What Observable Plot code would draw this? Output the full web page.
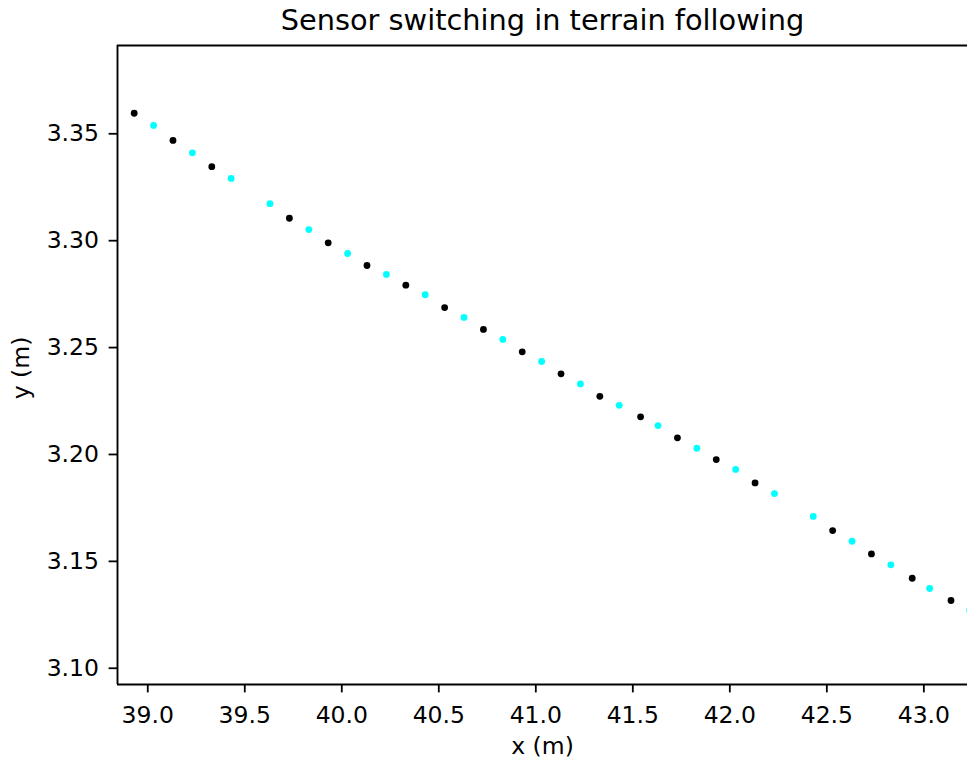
<!DOCTYPE html>
<html>
<head>
<meta charset="utf-8">
<script src="https://cdn.jsdelivr.net/npm/d3@7"></script>
<script src="https://cdn.jsdelivr.net/npm/@observablehq/plot@0.6"></script>
<style>
  html, body { margin: 0; padding: 0; background: #fff; }
  svg { font-family: "DejaVu Sans", sans-serif; }
</style>
</head>
<body>
<div id="chart"></div>
<script>
// Points from sensor A (black)
const blackX = [38.93, 39.13, 39.33, 39.73, 39.93, 40.13, 40.33, 40.53, 40.73, 40.93, 41.13, 41.33, 41.54, 41.73, 41.93, 42.13, 42.53, 42.73, 42.94, 43.14];
const blackY = [3.3596, 3.3469, 3.3346, 3.3105, 3.2990, 3.2884, 3.2792, 3.2687, 3.2585, 3.2480, 3.2377, 3.2272, 3.2176, 3.2078, 3.1976, 3.1867, 3.1644, 3.1535, 3.1421, 3.1317];
// Points from sensor B (cyan)
const cyanX = [39.03, 39.23, 39.43, 39.63, 39.83, 40.03, 40.23, 40.43, 40.63, 40.83, 41.03, 41.23, 41.43, 41.63, 41.83, 42.03, 42.23, 42.43, 42.63, 42.83, 43.03, 43.236];
const cyanY = [3.3539, 3.3411, 3.3291, 3.3173, 3.3052, 3.2940, 3.2842, 3.2747, 3.2641, 3.2538, 3.2435, 3.2330, 3.2230, 3.2135, 3.2029, 3.1930, 3.1817, 3.1710, 3.1594, 3.1484, 3.1373, 3.1270];

const xTicks = [39.0, 39.5, 40.0, 40.5, 41.0, 41.5, 42.0, 42.5, 43.0];
const yTicks = [3.10, 3.15, 3.20, 3.25, 3.30, 3.35];
const xDomain = [38.844, 43.225];
const yDomain = [3.0924, 3.3913];

const titleText = "Sensor switching in terrain following";
const xLabel = "x (m)";
const yLabel = "y (m)";

const black = blackX.map((x, i) => ({x, y: blackY[i]}));
const cyan = cyanX.map((x, i) => ({x, y: cyanY[i]}));

const FS = 23.5;

const chart = Plot.plot({
  width: 967,
  height: 763,
  marginTop: 45,
  marginBottom: 79,
  marginLeft: 117,
  marginRight: 0,
  style: {fontFamily: "DejaVu Sans, sans-serif", background: "#fff", color: "#000", overflow: "visible"},
  x: {domain: xDomain},
  y: {domain: yDomain},
  marks: [
    // tick lines only
    Plot.axisX({ticks: xTicks, tickSize: 8.4, tickFormat: () => "", label: null, stroke: "#000", strokeWidth: 1.8}),
    Plot.axisY({ticks: yTicks, tickSize: 8.4, tickFormat: () => "", label: null, stroke: "#000", strokeWidth: 1.8}),
    // tick labels
    Plot.text(xTicks, {x: d => d, frameAnchor: "bottom", lineAnchor: "top", textAnchor: "middle", dy: 21.5,
      text: d => d.toFixed(1), fontSize: FS, fill: "#000"}),
    Plot.text(yTicks, {y: d => d, frameAnchor: "left", lineAnchor: "middle", textAnchor: "end", dx: -18.5,
      text: d => d.toFixed(2), fontSize: FS, fill: "#000"}),
    // axis labels and title
    Plot.text([xLabel], {frameAnchor: "bottom", lineAnchor: "middle", textAnchor: "middle", dy: 62, fontSize: FS, fill: "#000", text: d => d}),
    Plot.text([yLabel], {frameAnchor: "left", lineAnchor: "middle", textAnchor: "middle", dx: -96, dy: 3, rotate: -90, fontSize: FS, fill: "#000", text: d => d}),
    Plot.text([titleText], {frameAnchor: "top", lineAnchor: "middle", textAnchor: "middle", dy: -25, fontSize: 28.8, fill: "#000", text: d => d}),
    // spines
    Plot.ruleX([xDomain[0]], {stroke: "#000", strokeWidth: 1.9}),
    Plot.ruleY(yDomain, {stroke: "#000", strokeWidth: 1.9}),
    // points
    Plot.dot(cyan, {x: "x", y: "y", r: 3.4, fill: "#00ffff", stroke: "none"}),
    Plot.dot(black, {x: "x", y: "y", r: 3.4, fill: "#000", stroke: "none"})
  ]
});
document.getElementById("chart").appendChild(chart);
</script>
</body>
</html>
